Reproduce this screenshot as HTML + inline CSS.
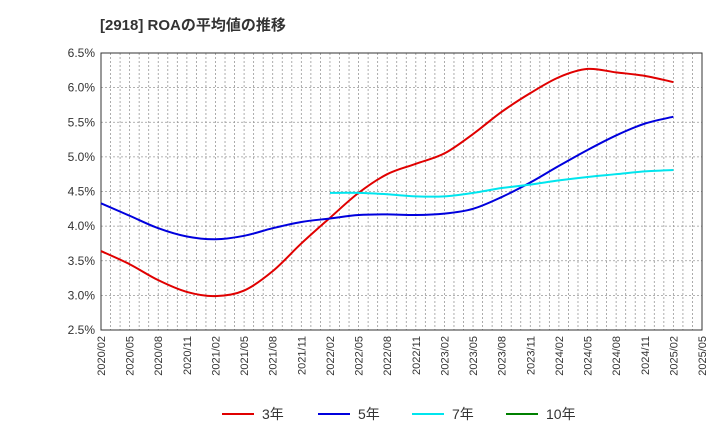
<!DOCTYPE html>
<html><head><meta charset="utf-8"><style>
body{margin:0;background:#fff;font-family:"Liberation Sans","Noto Sans CJK JP",sans-serif}
</style></head><body>
<svg id="c" width="720" height="440" xmlns="http://www.w3.org/2000/svg" font-family="Liberation Sans, Noto Sans CJK JP, sans-serif">
<text x="100" y="30" font-size="15" font-weight="bold" fill="#333">[2918]  ROAの平均値の推移</text>
<g id="grid"></g><g id="axes"></g><g id="series"></g><g id="legend"></g>
</svg>
<script>
const xLabels=["2020/02","2020/05","2020/08","2020/11","2021/02","2021/05","2021/08","2021/11","2022/02","2022/05","2022/08","2022/11","2023/02","2023/05","2023/08","2023/11","2024/02","2024/05","2024/08","2024/11","2025/02","2025/05"];
const yTicks=[2.5,3.0,3.5,4.0,4.5,5.0,5.5,6.0,6.5];
const s3=[3.64,3.45,3.22,3.05,2.99,3.07,3.35,3.75,4.12,4.48,4.75,4.90,5.05,5.33,5.65,5.92,6.15,6.27,6.22,6.17,6.08];
const s5=[4.33,4.15,3.97,3.85,3.81,3.86,3.97,4.06,4.11,4.16,4.17,4.16,4.18,4.25,4.42,4.63,4.87,5.10,5.31,5.48,5.58];
const s7=[null,null,null,null,null,null,null,null,4.48,4.48,4.46,4.43,4.43,4.48,4.55,4.60,4.66,4.71,4.75,4.79,4.81];
const s10=[];
const L=101,R=702,T=53,B=330;
const ns="http://www.w3.org/2000/svg";
const X=i=>L+(R-L)*i/(xLabels.length-1);
const Y=v=>B-(v-2.5)/4*(B-T);
function mk(t,a,p){const e=document.createElementNS(ns,t);for(const k in a)e.setAttribute(k,a[k]);p.appendChild(e);return e;}
const g=document.getElementById('grid'),ax=document.getElementById('axes'),sg=document.getElementById('series'),lg=document.getElementById('legend');
for(let m=1;m<(xLabels.length-1)*3;m++){const x=L+(R-L)*m/((xLabels.length-1)*3);const l=mk('line',{x1:x,x2:x,y1:T,y2:B,stroke:'#999','stroke-dasharray':'2,2','stroke-width':0.8},g);}
yTicks.forEach(v=>{const l=mk('line',{x1:L,x2:R,y1:Y(v),y2:Y(v),stroke:'#999','stroke-dasharray':'2,2','stroke-width':0.8},g);
const t=mk('text',{x:L-6,y:Y(v)+4,'text-anchor':'end','font-size':12,fill:'#333'},ax);t.textContent=v.toFixed(1)+'%';});
xLabels.forEach((s,i)=>{const t=mk('text',{transform:`translate(${X(i)+4},${B+6}) rotate(-90)`,'text-anchor':'end','font-size':11,fill:'#333'},ax);t.textContent=s;});
const fr=mk('rect',{x:L,y:T,width:R-L,height:B-T,fill:'none',stroke:'#333','stroke-width':1},ax);
function path(arr){const p=[];arr.forEach((v,i)=>{if(v!=null)p.push([X(i),Y(v)]);});if(p.length<2)return'';let d=`M${p[0][0]},${p[0][1]}`;for(let i=0;i<p.length-1;i++){const p0=p[i-1]||p[i],p1=p[i],p2=p[i+1],p3=p[i+2]||p2;d+=` C${p1[0]+(p2[0]-p0[0])/6},${p1[1]+(p2[1]-p0[1])/6} ${p2[0]-(p3[0]-p1[0])/6},${p2[1]-(p3[1]-p1[1])/6} ${p2[0]},${p2[1]}`;}return d;}
const series=[[s3,'#e00000','3年','line-3yr'],[s5,'#0000dd','5年','line-5yr'],[s7,'#00e5ee','7年','line-7yr'],[s10,'#008000','10年','line-10yr']];
series.forEach(([a,c,n,id],k)=>{const d=path(a);if(d){const p=mk('path',{d:d,fill:'none',stroke:c,'stroke-width':2},sg);}
const lx=[222,318,412,506][k];const l=mk('line',{x1:lx,x2:lx+32,y1:414,y2:414,stroke:c,'stroke-width':2},lg);
const t=mk('text',{x:lx+40,y:419,'font-size':14,fill:'#333'},lg);t.textContent=n;});
</script>
</body></html>
